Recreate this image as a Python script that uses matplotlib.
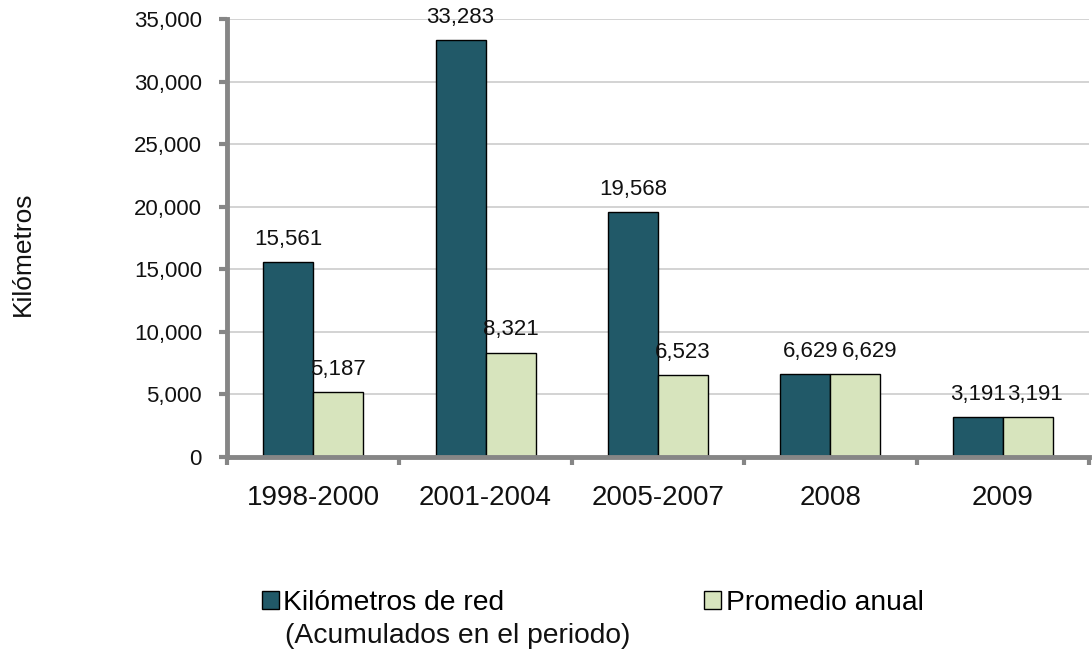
import matplotlib
matplotlib.use("Agg")
import matplotlib.pyplot as plt
import numpy as np

categories = ["1998-2000", "2001-2004", "2005-2007", "2008", "2009"]
km_red = [15561, 33283, 19568, 6629, 3191]
promedio = [5187, 8321, 6523, 6629, 3191]
series_labels = ["Kilómetros de red", "Promedio anual"]
legend_extra = "(Acumulados en el periodo)"
y_label = "Kilómetros"

plt.rcParams['font.family'] = ['Liberation Sans', 'DejaVu Sans']

W, H = 1092, 652
fig = plt.figure(figsize=(W / 100, H / 100), dpi=100)
ax = fig.add_axes([227 / W, 1 - 457 / H, (1089 - 227) / W, (457 - 19) / H])

dark = "#215968"
light = "#D7E4BD"
x = np.arange(len(categories))
bw = 0.29
b1 = ax.bar(x - bw / 2, km_red, bw, color=dark, edgecolor="black", linewidth=1, zorder=3)
b2 = ax.bar(x + bw / 2, promedio, bw, color=light, edgecolor="black", linewidth=1, zorder=3)

# small horizontal nudges (points) for crowded labels, as in the original
nudge = {(0, 3): 4, (1, 3): 10, (1, 4): 5}
for si, (bars, vals) in enumerate(((b1, km_red), (b2, promedio))):
    for ci, (r, v) in enumerate(zip(bars, vals)):
        ax.annotate(f"{v:,}", (r.get_x() + r.get_width() / 2, r.get_height()),
                    xytext=(nudge.get((si, ci), 0), 9), textcoords="offset points",
                    ha="center", va="bottom", fontsize=16, color="#111111", zorder=4)

ax.set_xlim(-0.5, len(categories) - 0.5)
ax.set_ylim(0, 35000)
ax.set_yticks(np.arange(0, 35001, 5000))
ax.set_yticklabels([f"{int(t):,}" for t in np.arange(0, 35001, 5000)])
ax.set_xticks(x)
ax.set_xticklabels(categories)
ax.set_xticks(np.arange(-0.5, len(categories), 1.0), minor=True)

ax.grid(axis="y", color="#D0D0D0", linewidth=1.3, zorder=0)
for s in ("top", "right"):
    ax.spines[s].set_visible(False)
for s in ("left", "bottom"):
    ax.spines[s].set_color("#868686")
    ax.spines[s].set_linewidth(3.5)
    ax.spines[s].set_zorder(5)

ax.tick_params(axis="y", direction="out", length=6, width=3, color="#868686",
               labelsize=16, pad=12, labelcolor="#111111")
ax.tick_params(axis="x", which="major", length=0, labelsize=20, pad=20, labelcolor="#111111")
ax.tick_params(axis="x", which="minor", direction="out", length=6, width=3, color="#868686")

fig.text(23 / W, 1 - 254 / H, y_label, rotation=90, ha="center", va="center",
         fontsize=19, color="#111111")

leg = fig.legend([b1, b2], series_labels, ncol=2, loc="center left",
                 bbox_to_anchor=(262 / W, 1 - 603 / H), frameon=False, fontsize=20.3,
                 handlelength=0.6, handleheight=0.6, handletextpad=0.15,
                 columnspacing=7.1, borderpad=0, borderaxespad=0)
fig.text(285 / W, 1 - 636 / H, legend_extra, ha="left", va="center", fontsize=20.3, color="#111111")

fig.savefig("out.png", dpi=100)
